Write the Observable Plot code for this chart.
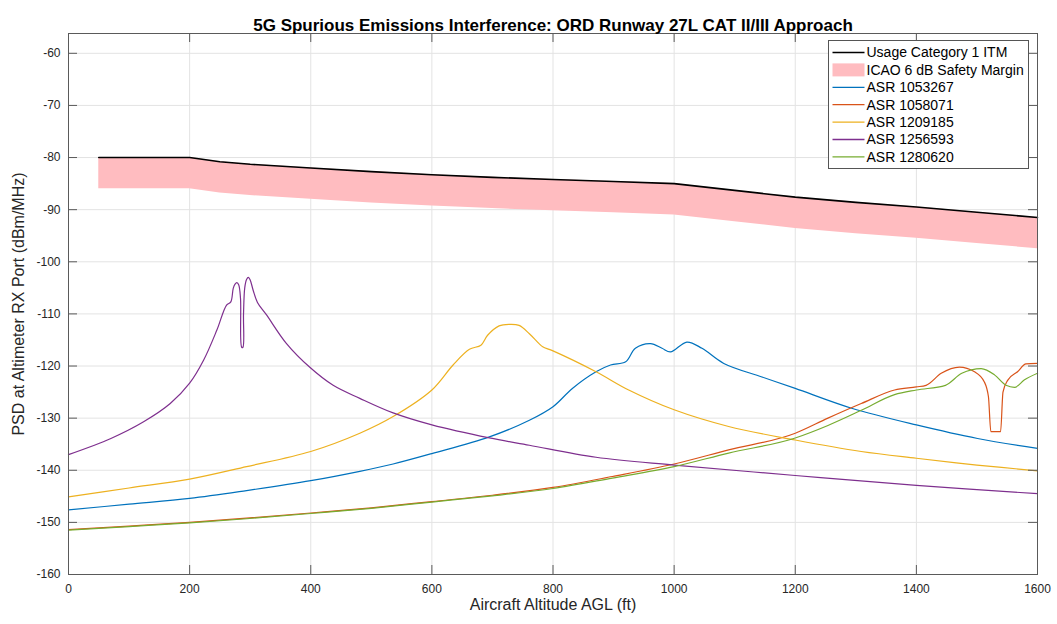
<!DOCTYPE html>
<html>
<head>
<meta charset="utf-8">
<script src="https://cdn.jsdelivr.net/npm/d3@7"></script>
<script src="https://cdn.jsdelivr.net/npm/@observablehq/plot@0.6"></script>
<style>
  html, body { margin: 0; padding: 0; background: #fff; }
  #wrap { position: relative; width: 1057px; height: 624px; font-family: "Liberation Sans", Arial, sans-serif; }
  #legend { position: absolute; left: 828px; top: 40px; }
</style>
</head>
<body>
<div id="wrap"><div id="chart"></div><div id="legend"></div></div>
<script>
// ---------- data ----------
const chartTitle = "5G Spurious Emissions Interference: ORD Runway 27L CAT II/III Approach";
const xLabel = "Aircraft Altitude AGL (ft)";
const yLabel = "PSD at Altimeter RX Port (dBm/MHz)";
const xTicks = [0, 200, 400, 600, 800, 1000, 1200, 1400, 1600];
const yTicks = [-160, -150, -140, -130, -120, -110, -100, -90, -80, -70, -60];

// Usage Category 1 ITM
const itmAlt = [50, 200, 250, 300, 400, 500, 600, 700, 800, 900, 1000, 1100, 1200, 1300, 1400, 1500, 1600];
const itmPsd = [-80, -80, -80.8, -81.3, -82.0, -82.7, -83.3, -83.8, -84.2, -84.6, -85.0, -86.3, -87.6, -88.6, -89.5, -90.5, -91.5];
const icaoMarginDb = 6;

// ASR 1053267 (blue)
const asr1053267Alt = [0, 100, 200, 294, 400, 481, 536, 600, 695, 761, 800, 832, 871, 895, 920, 936, 961, 980, 994, 1021, 1046, 1082, 1145, 1200, 1293, 1400, 1501, 1600];
const asr1053267Psd = [-147.6, -146.5, -145.4, -143.9, -142.0, -140.2, -138.8, -136.8, -133.6, -130.4, -127.8, -124.3, -121.1, -119.8, -119.2, -116.6, -115.7, -116.6, -117.3, -115.4, -116.6, -119.5, -122.1, -124.3, -128.1, -131.3, -133.9, -135.8];

// ASR 1058071 (red)
const asr1058071Alt = [0, 100, 200, 294, 400, 500, 600, 700, 800, 898, 1000, 1090, 1200, 1254, 1309, 1364, 1400, 1416, 1441, 1471, 1496, 1512, 1519, 1523, 1539, 1543, 1551, 1567, 1581, 1600];
const asr1058071Psd = [-151.4, -150.7, -150.0, -149.2, -148.2, -147.2, -146.0, -144.8, -143.3, -141.2, -138.8, -136.1, -132.9, -130.0, -127.2, -124.6, -124.0, -123.7, -121.4, -120.2, -121.1, -123.0, -125.9, -132.6, -132.6, -125.0, -122.7, -121.1, -119.6, -119.5];

// ASR 1209185 (yellow)
const asr1209185Alt = [0, 100, 200, 294, 400, 481, 536, 600, 635, 662, 681, 692, 711, 728, 744, 761, 777, 783, 800, 871, 925, 1000, 1090, 1200, 1309, 1400, 1500, 1600];
const asr1209185Psd = [-145.1, -143.4, -141.7, -139.3, -136.4, -132.9, -129.7, -124.6, -119.8, -116.8, -116.0, -114.1, -112.3, -112.0, -112.2, -113.8, -115.7, -116.3, -117.1, -121.1, -124.6, -128.4, -131.6, -134.2, -136.4, -137.7, -139.0, -140.1];

// ASR 1256593 (purple)
const asr1256593Alt = [0, 70, 124, 168, 200, 223, 245, 261, 268, 272, 275, 278, 281, 284, 286, 288, 289, 291, 294, 297, 300, 305, 312, 327, 360, 398, 437, 481, 536, 600, 695, 761, 871, 1000, 1200, 1400, 1600];
const asr1256593Psd = [-137.0, -133.9, -130.7, -127.2, -123.3, -118.9, -113.1, -108.3, -107.7, -105.1, -104.3, -104.0, -104.4, -107.0, -116.4, -116.4, -110.0, -105.0, -103.4, -103.0, -103.5, -105.5, -107.8, -110.2, -115.7, -120.2, -123.7, -126.2, -129.0, -131.3, -133.8, -135.2, -137.5, -139.0, -141.0, -142.9, -144.5];

// ASR 1280620 (green)
const asr1280620Alt = [0, 100, 200, 294, 400, 500, 600, 700, 800, 898, 1000, 1090, 1200, 1254, 1309, 1364, 1400, 1448, 1475, 1507, 1529, 1548, 1562, 1578, 1600];
const asr1280620Psd = [-151.5, -150.8, -150.1, -149.3, -148.3, -147.3, -146.1, -144.9, -143.5, -141.5, -139.3, -136.7, -133.8, -131.4, -128.5, -125.5, -124.6, -123.7, -121.4, -120.5, -121.7, -123.7, -124.1, -122.7, -121.4];

const seriesNames = ["ASR 1053267", "ASR 1058071", "ASR 1209185", "ASR 1256593", "ASR 1280620"];
const seriesColors = ["#0072BD", "#D95319", "#EDB120", "#7E2F8E", "#77AC30"];
const seriesAlt = [asr1053267Alt, asr1058071Alt, asr1209185Alt, asr1256593Alt, asr1280620Alt];
const seriesPsd = [asr1053267Psd, asr1058071Psd, asr1209185Psd, asr1256593Psd, asr1280620Psd];
const itmName = "Usage Category 1 ITM";
const icaoName = "ICAO 6 dB Safety Margin";
const icaoColor = "#ffbcc0";

// ---------- build tables ----------
const itmRows = itmAlt.map((a, i) => ({alt: a, top: itmPsd[i], bottom: itmPsd[i] - icaoMarginDb}));
const seriesRows = seriesNames.flatMap((name, s) => seriesAlt[s].map((a, i) => ({name, order: s, alt: a, psd: seriesPsd[s][i]})));
// series with sharp notches are drawn with a monotone curve (no overshoot)
const notched = new Set(["ASR 1058071", "ASR 1280620"]);

const W = 1057, H = 624, mL = 68, mR = 20, mT = 33, mB = 50;
const plotW = W - mL - mR, plotH = H - mT - mB;
const axisColor = "#5a5a5a", gridColor = "#e3e3e3", tickLen = 9;

const lineMarks = seriesNames.map(n => Plot.line(seriesRows.filter(r => r.name === n), {
  x: "alt", y: "psd", stroke: "name", strokeWidth: 1.2,
  curve: notched.has(n) ? "monotone-x" : "catmull-rom"
}));

const chart = Plot.plot({
  width: W, height: H,
  marginLeft: mL, marginRight: mR, marginTop: mT, marginBottom: mB,
  style: {fontFamily: "'Liberation Sans', Arial, sans-serif", color: "#262626", background: "#fff"},
  x: {domain: [0, 1600], axis: null},
  y: {domain: [-160, -56.2], axis: null},
  color: {domain: seriesNames, range: seriesColors},
  marks: [
    Plot.ruleX(xTicks, {x: d => d, stroke: gridColor, strokeWidth: 1}),
    Plot.ruleY(yTicks, {y: d => d, stroke: gridColor, strokeWidth: 1}),
    Plot.areaY(itmRows, {x: "alt", y1: "bottom", y2: "top", fill: icaoColor}),
    Plot.line(itmRows, {x: "alt", y: "top", stroke: "#000", strokeWidth: 1.6}),
    ...lineMarks,
    Plot.frame({stroke: axisColor, strokeWidth: 1}),
    // inward ticks (bottom, top, left, right)
    Plot.ruleX(xTicks, {x: d => d, insetTop: plotH - tickLen, stroke: axisColor}),
    Plot.ruleX(xTicks, {x: d => d, insetBottom: plotH - tickLen, stroke: axisColor}),
    Plot.ruleY(yTicks, {y: d => d, insetRight: plotW - tickLen, stroke: axisColor}),
    Plot.ruleY(yTicks, {y: d => d, insetLeft: plotW - tickLen, stroke: axisColor}),
    Plot.axisX(xTicks, {anchor: "bottom", tickSize: 0, tickPadding: 10, fontSize: 12, label: null, tickFormat: d => String(d)}),
    Plot.axisY(yTicks, {anchor: "left", tickSize: 0, tickPadding: 8, fontSize: 12, label: null, tickFormat: d => String(d)}),
    Plot.text([xLabel], {frameAnchor: "bottom", dy: 35, fontSize: 16, fill: "#262626"}),
    Plot.text([yLabel], {frameAnchor: "left", dx: -50, rotate: -90, textAnchor: "middle", fontSize: 16, fill: "#262626"}),
    Plot.text([chartTitle], {frameAnchor: "top", dy: -15, fontSize: 17, fontWeight: "bold", fill: "#000"})
  ]
});
document.getElementById("chart").appendChild(chart);

// ---------- legend (inside the axes, top right) ----------
const legendItems = [
  {label: itmName, type: "line", color: "#000"},
  {label: icaoName, type: "patch", color: icaoColor},
  ...seriesNames.map((n, i) => ({label: n, type: "line", color: seriesColors[i]}))
];
const lw = 200, lh = 128, rowStart = 12.5, rowStep = 17.4;
const lg = d3.select("#legend").append("svg").attr("width", lw + 1).attr("height", lh + 1)
  .style("font-family", "'Liberation Sans', Arial, sans-serif");
lg.append("rect").attr("x", 0.5).attr("y", 0.5).attr("width", lw).attr("height", lh)
  .attr("fill", "#fff").attr("stroke", "#555");
legendItems.forEach((it, i) => {
  const cy = rowStart + i * rowStep;
  if (it.type === "line") {
    lg.append("line").attr("x1", 4.5).attr("x2", 36.5).attr("y1", cy).attr("y2", cy)
      .attr("stroke", it.color).attr("stroke-width", it.color === "#000" ? 1.6 : 1.3);
  } else {
    lg.append("rect").attr("x", 4.5).attr("y", cy - 6.5).attr("width", 32).attr("height", 13).attr("fill", it.color);
  }
  lg.append("text").attr("x", 38.5).attr("y", cy).attr("dy", "0.35em")
    .attr("font-size", 14).attr("fill", "#000").text(it.label);
});
</script>
</body>
</html>
